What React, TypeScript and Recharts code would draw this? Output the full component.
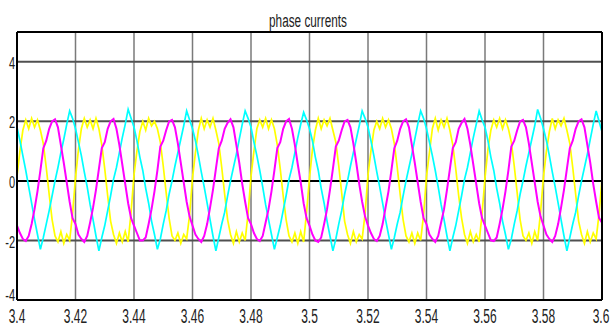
import React from 'react'
import { LineChart, Line, XAxis, YAxis, CartesianGrid, ReferenceLine } from 'recharts'

// sampled every 1 ms from t = 3.4 s, one row per 20 ms cycle
const startTime = 3.4
const stepSec = 0.001

const phaseYellow = [
  0.15, 1.0, 1.7, 2.05, 1.75, 2.1, 1.8, 2.05, 1.7, 1.25, 0.45, -0.45, -1.3, -1.85, -2.05, -1.7, -2.1, -1.8, -2.0, -1.1,
  0.1, 1.05, 1.75, 2.1, 1.8, 2.05, 1.75, 2.1, 1.75, 1.2, 0.4, -0.5, -1.35, -1.8, -2.1, -1.75, -2.05, -1.7, -2.05, -1.05,
  0.2, 1.0, 1.65, 2.0, 1.7, 2.1, 1.85, 2.0, 1.75, 1.3, 0.5, -0.4, -1.25, -1.85, -2.0, -1.75, -2.1, -1.8, -1.95, -1.15,
  0.1, 0.95, 1.7, 2.1, 1.75, 2.05, 1.8, 2.1, 1.7, 1.25, 0.45, -0.45, -1.3, -1.8, -2.1, -1.7, -2.05, -1.75, -2.0, -1.1,
  0.15, 1.0, 1.75, 2.05, 1.8, 2.1, 1.75, 2.05, 1.75, 1.2, 0.4, -0.5, -1.3, -1.85, -2.05, -1.75, -2.1, -1.7, -2.05, -1.05,
  0.1, 1.05, 1.7, 2.1, 1.75, 2.05, 1.85, 2.1, 1.7, 1.3, 0.5, -0.4, -1.35, -1.8, -2.1, -1.7, -2.05, -1.8, -1.95, -1.1,
  0.2, 1.0, 1.7, 2.0, 1.75, 2.1, 1.8, 2.05, 1.75, 1.25, 0.45, -0.45, -1.3, -1.85, -2.05, -1.75, -2.1, -1.75, -2.0, -1.15,
  0.15, 0.95, 1.75, 2.1, 1.7, 2.05, 1.8, 2.1, 1.7, 1.2, 0.4, -0.5, -1.25, -1.8, -2.1, -1.7, -2.05, -1.8, -2.05, -1.1,
  0.1, 1.05, 1.7, 2.05, 1.8, 2.1, 1.75, 2.05, 1.75, 1.3, 0.5, -0.4, -1.3, -1.85, -2.0, -1.75, -2.1, -1.7, -2.0, -1.05,
  0.15, 1.0, 1.65, 2.1, 1.75, 2.05, 1.85, 2.1, 1.7, 1.25, 0.45, -0.45, -1.35, -1.8, -2.1, -1.7, -2.05, -1.75, -1.95, -1.1,
  0.05,
]

const phaseMagenta = [
  -1.5, -1.75, -1.95, -2.02, -1.85, -1.45, -0.95, -0.35, 0.35, 1.1, 1.35, 1.75, 2.0, 2.07, 1.8, 1.2, 0.6, -0.05, -0.7, -1.25,
  -1.45, -1.8, -1.95, -2.05, -1.85, -1.4, -0.9, -0.3, 0.4, 1.1, 1.3, 1.75, 2.0, 2.08, 1.75, 1.2, 0.55, -0.1, -0.75, -1.25,
  -1.5, -1.75, -2.0, -2.0, -1.9, -1.45, -0.95, -0.35, 0.35, 1.15, 1.35, 1.7, 2.0, 2.05, 1.8, 1.25, 0.6, -0.05, -0.7, -1.2,
  -1.5, -1.8, -1.95, -2.05, -1.85, -1.45, -0.9, -0.3, 0.4, 1.1, 1.35, 1.75, 1.95, 2.07, 1.8, 1.2, 0.6, -0.1, -0.7, -1.25,
  -1.45, -1.75, -1.95, -2.02, -1.85, -1.4, -0.95, -0.35, 0.35, 1.1, 1.3, 1.75, 2.0, 2.08, 1.75, 1.2, 0.55, -0.05, -0.75, -1.25,
  -1.5, -1.8, -2.0, -2.05, -1.9, -1.45, -0.95, -0.3, 0.4, 1.15, 1.35, 1.7, 2.0, 2.05, 1.8, 1.25, 0.6, -0.1, -0.7, -1.2,
  -1.5, -1.75, -1.95, -2.02, -1.85, -1.45, -0.9, -0.35, 0.35, 1.1, 1.35, 1.75, 2.0, 2.07, 1.8, 1.2, 0.6, -0.05, -0.7, -1.25,
  -1.45, -1.8, -1.95, -2.05, -1.85, -1.4, -0.95, -0.3, 0.4, 1.1, 1.3, 1.75, 1.95, 2.08, 1.75, 1.2, 0.55, -0.1, -0.75, -1.25,
  -1.5, -1.75, -2.0, -2.02, -1.9, -1.45, -0.95, -0.35, 0.35, 1.15, 1.35, 1.7, 2.0, 2.05, 1.8, 1.25, 0.6, -0.05, -0.7, -1.2,
  -1.5, -1.8, -1.95, -2.05, -1.85, -1.45, -0.9, -0.3, 0.4, 1.1, 1.35, 1.75, 2.0, 2.07, 1.8, 1.2, 0.6, -0.1, -0.7, -1.25,
  -1.4,
]

const phaseCyan = [
  1.8, 1.35, 0.85, 0.35, -0.2, -0.75, -1.3, -1.8, -2.3, -1.9, -1.45, -1.0, -0.5, 0.0, 0.45, 0.95, 1.4, 1.9, 2.35, 2.1,
  1.75, 1.3, 0.85, 0.3, -0.2, -0.8, -1.3, -1.85, -2.35, -1.9, -1.5, -1.0, -0.5, 0.05, 0.45, 0.95, 1.45, 1.9, 2.4, 2.1,
  1.8, 1.35, 0.8, 0.35, -0.25, -0.75, -1.35, -1.8, -2.3, -1.95, -1.45, -1.0, -0.45, 0.0, 0.5, 0.95, 1.4, 1.85, 2.35, 2.05,
  1.75, 1.35, 0.85, 0.3, -0.2, -0.75, -1.3, -1.85, -2.35, -1.9, -1.45, -1.05, -0.5, 0.0, 0.45, 0.9, 1.4, 1.9, 2.35, 2.1,
  1.8, 1.3, 0.85, 0.35, -0.2, -0.8, -1.3, -1.8, -2.3, -1.9, -1.5, -1.0, -0.5, 0.05, 0.45, 0.95, 1.45, 1.9, 2.3, 2.05,
  1.75, 1.35, 0.8, 0.35, -0.25, -0.75, -1.35, -1.85, -2.35, -1.95, -1.45, -1.0, -0.45, 0.0, 0.5, 0.95, 1.4, 1.85, 2.35, 2.1,
  1.8, 1.35, 0.85, 0.3, -0.2, -0.75, -1.3, -1.8, -2.3, -1.9, -1.45, -1.05, -0.5, 0.0, 0.45, 0.9, 1.4, 1.9, 2.35, 2.1,
  1.75, 1.3, 0.85, 0.35, -0.2, -0.8, -1.3, -1.85, -2.35, -1.9, -1.5, -1.0, -0.5, 0.05, 0.45, 0.95, 1.45, 1.9, 2.35, 2.05,
  1.8, 1.35, 0.8, 0.35, -0.25, -0.75, -1.35, -1.8, -2.3, -1.95, -1.45, -1.0, -0.45, 0.0, 0.5, 0.95, 1.4, 1.85, 2.4, 2.1,
  1.75, 1.35, 0.85, 0.3, -0.2, -0.75, -1.3, -1.85, -2.35, -1.9, -1.45, -1.05, -0.5, 0.0, 0.45, 0.9, 1.4, 1.9, 2.35, 2.0,
  1.65,
]

const xTicks = [3.4, 3.42, 3.44, 3.46, 3.48, 3.5, 3.52, 3.54, 3.56, 3.58, 3.6]
const xTickLabels = ['3.4', '3.42', '3.44', '3.46', '3.48', '3.5', '3.52', '3.54', '3.56', '3.58', '3.6']
const yTicks = [-4, -2, 0, 2, 4]
const yGridLines = [4, 2, -2]

const data = phaseYellow.map((v, i) => ({
  t: startTime + i * stepSec,
  a: v,
  b: phaseMagenta[i],
  c: phaseCyan[i],
}))

const FONT = '"Liberation Sans", Arial, sans-serif'

const XTick = (props: any) => {
  const { x, y, payload } = props
  let idx = 0
  xTicks.forEach((t, i) => {
    if (Math.abs(t - payload.value) < 1e-6) idx = i
  })
  return (
    <g transform={`translate(${x},${y})`}>
      <text transform="scale(0.6,1)" y={23} textAnchor="middle" fontSize={20} fill="#222" fontFamily={FONT}>
        {xTickLabels[idx]}
      </text>
    </g>
  )
}

const YTick = (props: any) => {
  const { x, y, payload } = props
  // the bottom label sits a little above its tick, as in the original
  const shift = payload.value === -4 ? -5 : 1
  return (
    <g transform={`translate(${x},${y + shift})`}>
      <text transform="scale(0.65,1)" x={-3} dy="0.36em" textAnchor="end" fontSize={17} fill="#222" fontFamily={FONT}>
        {payload.value}
      </text>
    </g>
  )
}

export default function App() {
  return (
    <div style={{ position: 'absolute', left: 0, top: 0, width: 611, height: 327, background: '#fff' }}>
      <LineChart width={611} height={327} data={data} margin={{ top: 32, right: 9, left: 0, bottom: 0 }}>
        <CartesianGrid horizontal={false} stroke="#7a7a7a" strokeWidth={1.5} />
        <XAxis
          dataKey="t"
          type="number"
          domain={[3.4, 3.6]}
          ticks={xTicks}
          height={27}
          tickSize={0}
          tickMargin={0}
          axisLine={false}
          tickLine={false}
          tick={<XTick />}
        />
        <YAxis
          type="number"
          domain={[-4, 5]}
          ticks={yTicks}
          width={17}
          tickSize={0}
          tickMargin={0}
          axisLine={false}
          tickLine={false}
          tick={<YTick />}
        />
        {yGridLines.map((v) => (
          <ReferenceLine key={v} y={v} stroke="#505050" strokeWidth={2} />
        ))}
        <ReferenceLine y={0} stroke="#000" strokeWidth={2} />
        <Line type="linear" dataKey="a" stroke="#ffff00" strokeWidth={1.7} dot={false} isAnimationActive={false} />
        <Line type="linear" dataKey="c" stroke="#00ffff" strokeWidth={1.7} dot={false} isAnimationActive={false} />
        <Line type="linear" dataKey="b" stroke="#ff00ff" strokeWidth={2} dot={false} isAnimationActive={false} />
        <ReferenceLine x={3.4} stroke="#000" strokeWidth={2} />
        <ReferenceLine x={3.6} stroke="#000" strokeWidth={2} />
        <ReferenceLine y={5} stroke="#000" strokeWidth={2} />
        <ReferenceLine y={-4} stroke="#000" strokeWidth={2} />
      </LineChart>
      <svg width={611} height={40} style={{ position: 'absolute', left: 0, top: 0 }}>
        <text transform="translate(308,27) scale(0.62,1)" textAnchor="middle" fontSize={19} fill="#222" fontFamily={FONT}>
          phase currents
        </text>
      </svg>
    </div>
  )
}
